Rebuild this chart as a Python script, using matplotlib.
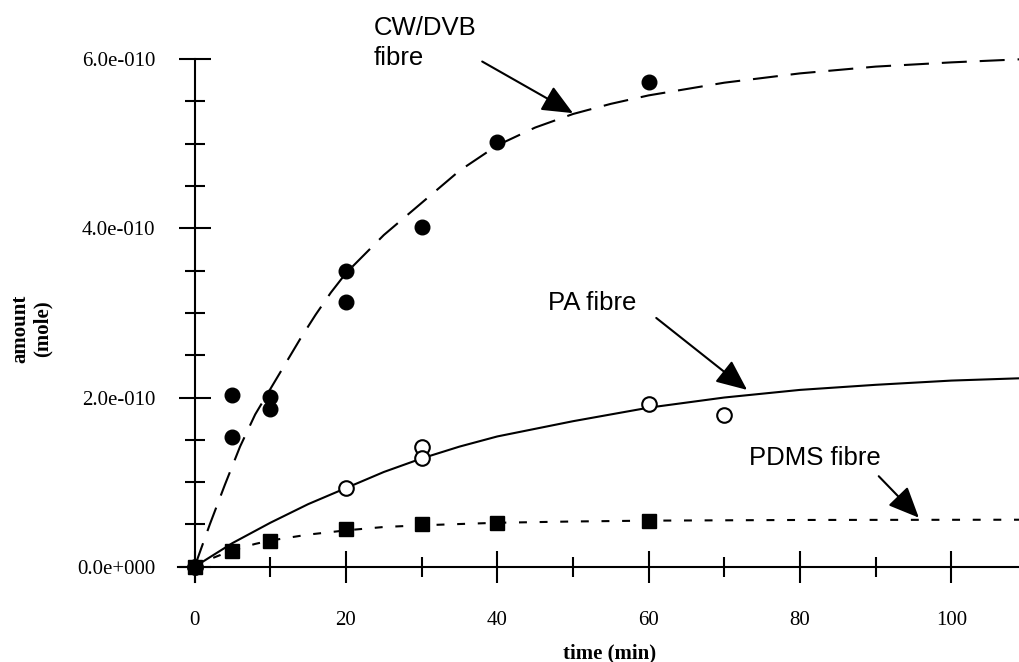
import numpy as np
import matplotlib
matplotlib.use("Agg")
import matplotlib.pyplot as plt
from matplotlib.ticker import MultipleLocator, FuncFormatter
from matplotlib.patches import ArrowStyle

# measured points, amounts in units of 1e-10 mole
unit = 1e-10

cw_time = [0, 5, 5, 10, 10, 20, 20, 30, 40, 60]
cw_amount = [0, 2.03, 1.53, 2.01, 1.87, 3.50, 3.13, 4.02, 5.02, 5.73]

pa_time = [0, 20, 30, 30, 60, 70]
pa_amount = [0, 0.93, 1.42, 1.29, 1.92, 1.79]

pdms_time = [0, 5, 10, 20, 30, 40, 60]
pdms_amount = [0, 0.19, 0.31, 0.45, 0.50, 0.52, 0.54]

# fitted curves
cw_fit_t = [0, 2, 4, 6, 8, 10, 12, 14, 16, 18, 20, 25, 30, 35, 40, 45, 50, 55, 60, 70, 80, 90, 100, 110]
cw_fit_y = [0, 0.50, 0.97, 1.42, 1.80, 2.10, 2.40, 2.70, 2.98, 3.24, 3.47, 3.92, 4.30, 4.68, 4.98, 5.19,
            5.35, 5.47, 5.57, 5.72, 5.83, 5.91, 5.96, 6.00]

pa_fit_t = [0, 5, 10, 15, 20, 25, 30, 35, 40, 50, 60, 70, 80, 90, 100, 110]
pa_fit_y = [0, 0.28, 0.52, 0.74, 0.93, 1.12, 1.28, 1.42, 1.54, 1.72, 1.88, 2.00, 2.09, 2.15, 2.20, 2.23]

pdms_fit_t = [0, 2, 4, 6, 8, 10, 15, 20, 25, 30, 40, 50, 60, 80, 110]
pdms_fit_y = [0, 0.09, 0.16, 0.22, 0.27, 0.31, 0.38, 0.43, 0.47, 0.49, 0.52, 0.535, 0.545, 0.553, 0.556]

###########################################################################

def sci_label(v, pos):
    m, e = ("%.1e" % v).split("e")
    return "%se%+04d" % (m, int(e))

fig = plt.figure(figsize=(10.19, 6.62), dpi=100)
ax = fig.add_axes([178 / 1019, 80 / 662, 843 / 1019, (582 - 33.6) / 662])
ax_h = 582 - 33.6

ax.plot(cw_fit_t, np.array(cw_fit_y) * unit, color="black", lw=1.5, dashes=(12, 6.2))
ax.plot(pa_fit_t, np.array(pa_fit_y) * unit, color="black", lw=1.5)
ax.plot(pdms_fit_t, np.array(pdms_fit_y) * unit, color="black", lw=1.5, dashes=(3.8, 6.1))

ax.plot(cw_time, np.array(cw_amount) * unit, "o", color="black", ms=10.5)
ax.plot(pa_time, np.array(pa_amount) * unit, "o", mfc="white", mec="black", mew=1.5, ms=10.5)
ax.plot(pdms_time, np.array(pdms_amount) * unit, "s", color="black", ms=10.5)

ax.set_xlim(-2.2, 109.2)
ax.set_ylim(-0.18 * unit, 6.3 * unit)

for s in ["top", "right"]:
    ax.spines[s].set_visible(False)
ax.spines["left"].set_position(("data", 0))
ax.spines["bottom"].set_position(("data", 0))
ax.spines["left"].set_bounds(-0.18 * unit, 6.0 * unit)
ax.spines["left"].set_linewidth(1.5)
ax.spines["bottom"].set_linewidth(1.5)

ax.xaxis.set_major_locator(MultipleLocator(20))
ax.xaxis.set_minor_locator(MultipleLocator(10))
ax.yaxis.set_major_locator(MultipleLocator(2 * unit))
ax.yaxis.set_minor_locator(MultipleLocator(0.5 * unit))
ax.yaxis.set_major_formatter(FuncFormatter(sci_label))

ax.tick_params(which="major", direction="inout", length=23, width=1.5, pad=17,
               labelsize=15, labelfontfamily="Liberation Serif")
ax.tick_params(axis="x", which="major", pad=20.5)
ax.tick_params(which="minor", direction="inout", length=15, width=1.5)

ax.set_xlabel("time (min)", fontsize=15, fontweight="bold", family="Liberation Serif")
ax.xaxis.set_label_coords((610 - 178) / 843, (582 - 643) / ax_h)
ax.set_ylabel("amount\n(mole)", fontsize=15, fontweight="bold", family="Liberation Serif",
              linespacing=1.2)
ax.yaxis.set_label_coords(-(178 - 53) / 843, (582 - 329) / ax_h)

# labels and arrows
style = ArrowStyle("-|>", head_length=1.0, head_width=0.44)
arrows = [((38.0, 5.97), (50.0, 5.36)), ((61.0, 2.94), (73.0, 2.09)), ((90.4, 1.07), (95.7, 0.58))]
for tail, tip in arrows:
    ax.annotate("", xy=(tip[0], tip[1] * unit), xytext=(tail[0], tail[1] * unit),
                arrowprops=dict(arrowstyle=style, mutation_scale=19, lw=1.5, color="black",
                                shrinkA=0, shrinkB=0))

tfont = dict(fontsize=18.5, family="Liberation Sans", va="baseline", ha="left")
ax.text(23.7, 6.28 * unit, "CW/DVB", **tfont)
ax.text(23.7, 5.93 * unit, "fibre", **tfont)
ax.text(46.7, 3.03 * unit, "PA fibre", **tfont)
ax.text(73.2, 1.20 * unit, "PDMS fibre", **tfont)

fig.savefig("out.png", dpi=100)
